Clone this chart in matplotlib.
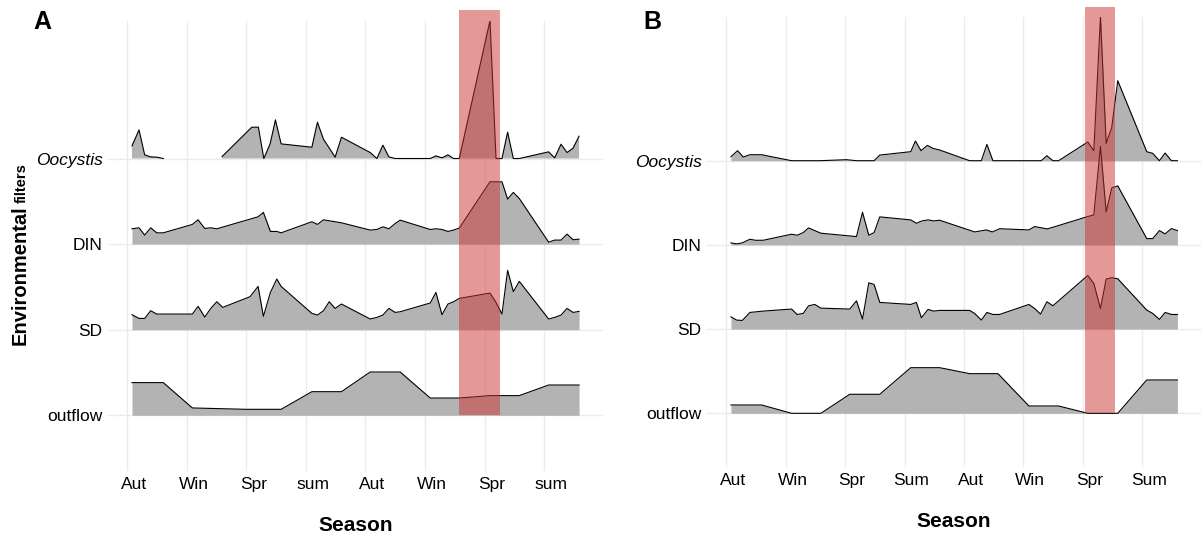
import numpy as np
import matplotlib
matplotlib.use("Agg")
import matplotlib.pyplot as plt
import matplotlib.transforms as mtransforms
from matplotlib.patches import Rectangle

plt.rcParams['font.family'] = ['Liberation Sans', 'DejaVu Sans']

# x positions are in "season" units: 0 = first Aut gridline, 1 = next season, ...
# heights are in units of the spacing between ridges
ridge_names = ['outflow', 'SD', 'DIN', 'Oocystis']

season_labels_a = ['Aut', 'Win', 'Spr', 'sum', 'Aut', 'Win', 'Spr', 'sum']
season_labels_b = ['Aut', 'Win', 'Spr', 'Sum', 'Aut', 'Win', 'Spr', 'Sum']

# ---- panel A ----
a_ooc_x = [0.079, 0.197, 0.292, 0.393, 0.494, 0.605, 1.0, 1.592, 2.091, 2.202, 2.293, 2.399,
           2.488, 2.584, 3.100, 3.194, 3.295, 3.491, 3.597, 4.080, 4.192, 4.293, 4.394, 4.500,
           5.088, 5.184, 5.285, 5.386, 5.480, 5.576, 6.092, 6.193, 6.293, 6.388, 6.484, 6.584,
           7.077, 7.178, 7.285, 7.386, 7.487, 7.588]
a_ooc = [0.148, 0.335, 0.043, 0.019, 0.016, 0.0, np.nan, 0.023, 0.366, 0.366, 0.0, 0.171,
         0.452, 0.171, 0.132, 0.424, 0.226, 0.016, 0.249, 0.070, 0.0, 0.156, 0.019, 0.0,
         0.0, 0.031, 0.008, 0.043, 0.0, 0.0, 1.612, 0.0, 0.0, 0.308, 0.0, 0.0,
         0.078, 0.008, 0.167, 0.070, 0.121, 0.261]

a_din_x = [0.079, 0.197, 0.292, 0.393, 0.494, 0.605, 1.093, 1.189, 1.301, 1.402, 1.503, 2.197,
           2.286, 2.404, 2.511, 2.584, 3.100, 3.194, 3.295, 3.597, 4.080, 4.192, 4.293, 4.394,
           4.500, 4.584, 5.088, 5.184, 5.285, 5.386, 5.480, 5.576, 6.092, 6.193, 6.293, 6.388,
           6.484, 6.584, 7.077, 7.178, 7.285, 7.386, 7.487, 7.588]
a_din = [0.179, 0.191, 0.105, 0.191, 0.132, 0.132, 0.230, 0.284, 0.183, 0.191, 0.179, 0.319,
         0.370, 0.148, 0.148, 0.132, 0.261, 0.230, 0.284, 0.249, 0.164, 0.171, 0.202, 0.179,
         0.241, 0.280, 0.171, 0.179, 0.171, 0.148, 0.164, 0.187, 0.728, 0.728, 0.728, 0.526,
         0.604, 0.533, 0.023, 0.047, 0.047, 0.117, 0.051, 0.058]

a_sd_x = [0.079, 0.197, 0.292, 0.393, 0.494, 0.605, 1.093, 1.189, 1.301, 1.402, 1.503, 1.603,
          2.062, 2.197, 2.286, 2.404, 2.511, 2.584, 3.100, 3.194, 3.295, 3.391, 3.491, 3.597,
          4.080, 4.192, 4.293, 4.394, 4.500, 4.584, 5.088, 5.184, 5.285, 5.386, 5.480, 5.576,
          6.092, 6.193, 6.293, 6.388, 6.484, 6.584, 7.077, 7.178, 7.285, 7.386, 7.487, 7.588]
a_sd = [0.175, 0.132, 0.132, 0.222, 0.183, 0.183, 0.183, 0.273, 0.148, 0.249, 0.327, 0.261,
        0.386, 0.506, 0.156, 0.436, 0.592, 0.506, 0.191, 0.171, 0.222, 0.327, 0.249, 0.300,
        0.125, 0.144, 0.171, 0.249, 0.202, 0.210, 0.312, 0.436, 0.175, 0.300, 0.327, 0.366,
        0.428, 0.319, 0.183, 0.693, 0.444, 0.565, 0.125, 0.144, 0.171, 0.249, 0.202, 0.214]

a_out_x = [0.079, 0.605, 1.093, 2.0, 2.584, 3.100, 3.597, 4.080, 4.584, 5.088, 5.576, 6.092,
           6.584, 7.077, 7.588]
a_out = [0.382, 0.382, 0.086, 0.070, 0.070, 0.276, 0.276, 0.506, 0.506, 0.202, 0.202, 0.230,
         0.230, 0.354, 0.354]

a_band = (5.576, 6.26)

# ---- panel B ----
b_ooc_x = [0.079, 0.191, 0.286, 0.398, 0.595, 1.099, 1.575, 2.024, 2.192, 2.488, 2.584, 3.105,
           3.184, 3.278, 3.385, 3.480, 3.592, 4.096, 4.293, 4.387, 4.488, 5.302, 5.396, 5.497,
           5.593, 6.085, 6.186, 6.298, 6.394, 6.488, 6.589, 7.077, 7.178, 7.290, 7.386, 7.492,
           7.593]
b_ooc = [0.048, 0.119, 0.044, 0.071, 0.071, 0.0, 0.0, 0.012, 0.0, 0.0, 0.067, 0.107,
         0.234, 0.119, 0.182, 0.146, 0.127, 0.0, 0.0, 0.194, 0.0, 0.0, 0.059, 0.0,
         0.0, 0.222, 0.119, 1.710, 0.206, 0.396, 0.950, 0.107, 0.087, 0.0, 0.091, 0.0,
         0.0]

b_din_x = [0.079, 0.174, 0.270, 0.398, 0.494, 0.622, 1.099, 1.194, 1.295, 1.385, 1.592, 2.192,
           2.293, 2.399, 2.488, 2.584, 3.105, 3.200, 3.295, 3.396, 3.491, 3.592, 4.181, 4.377,
           4.478, 4.601, 5.094, 5.189, 5.403, 5.593, 6.085, 6.186, 6.298, 6.394, 6.488, 6.589,
           7.077, 7.178, 7.290, 7.386, 7.492, 7.593]
b_din = [0.024, 0.012, 0.024, 0.067, 0.055, 0.055, 0.127, 0.115, 0.146, 0.202, 0.139, 0.099,
         0.388, 0.115, 0.146, 0.333, 0.297, 0.257, 0.285, 0.297, 0.285, 0.293, 0.154, 0.178,
         0.154, 0.192, 0.178, 0.218, 0.190, 0.230, 0.337, 0.356, 1.168, 0.392, 0.677, 0.701,
         0.075, 0.075, 0.170, 0.131, 0.194, 0.170]

b_sd_x = [0.079, 0.174, 0.270, 0.398, 0.622, 1.099, 1.194, 1.295, 1.385, 1.491, 1.592, 2.079,
          2.192, 2.293, 2.399, 2.488, 2.584, 3.105, 3.200, 3.284, 3.396, 3.491, 3.592, 4.096,
          4.181, 4.293, 4.387, 4.488, 4.601, 5.094, 5.189, 5.290, 5.396, 5.497, 6.085, 6.186,
          6.298, 6.394, 6.488, 6.589, 7.077, 7.178, 7.290, 7.386, 7.492, 7.593]
b_sd = [0.146, 0.107, 0.103, 0.198, 0.214, 0.238, 0.174, 0.186, 0.277, 0.293, 0.249, 0.238,
        0.336, 0.119, 0.550, 0.530, 0.317, 0.293, 0.317, 0.135, 0.234, 0.214, 0.222, 0.222,
        0.186, 0.107, 0.198, 0.174, 0.174, 0.293, 0.245, 0.178, 0.325, 0.277, 0.637, 0.542,
        0.245, 0.594, 0.610, 0.598, 0.226, 0.186, 0.115, 0.198, 0.174, 0.174]

b_out_x = [0.079, 0.595, 1.099, 1.592, 2.079, 2.584, 3.105, 3.592, 4.096, 4.573, 5.094, 5.593,
           6.085, 6.589, 7.077, 7.593]
b_out = [0.099, 0.099, 0.0, 0.0, 0.226, 0.226, 0.542, 0.542, 0.471, 0.471, 0.087, 0.087,
         0.0, 0.0, 0.396, 0.396]

b_band = (6.035, 6.54)

FILL = '#B3B3B3'
GRID = '#EBEBEB'
BAND = '#CD3333'


def draw_panel(ax, series, band, band_top, ylim, labels):
    ax.set_xlim(-0.324, 7.99)
    ax.set_ylim(*ylim)
    for lvl, (xs, ys) in enumerate(series):
        xs = np.asarray(xs, dtype=float)
        ys = np.asarray(ys, dtype=float) + lvl
        ax.fill_between(xs, lvl, ys, color=FILL, lw=0, zorder=2 + (3 - lvl))
        ax.plot(xs, ys, color='black', lw=0.8, zorder=2.5 + (3 - lvl))
    ax.add_patch(Rectangle((band[0], 0), band[1] - band[0], band_top, facecolor=BAND,
                           alpha=0.5, lw=0, zorder=10, clip_on=False))
    ax.set_xticks(range(8))
    ax.set_xticklabels(labels, fontsize=12.5)
    ax.set_yticks(range(4))
    ax.set_yticklabels(ridge_names, fontsize=12.5)
    ax.get_yticklabels()[3].set_style('italic')
    ax.tick_params(length=0, pad=4)
    ax.tick_params(axis='x', pad=4.5)
    ax.grid(True, color=GRID, lw=1.0, zorder=0)
    ax.set_axisbelow(True)
    for sp in ax.spines.values():
        sp.set_visible(False)
    off = mtransforms.ScaledTranslation(0.07, 0, ax.figure.dpi_scale_trans)
    for lab in ax.get_xticklabels():
        lab.set_transform(lab.get_transform() + off)
    ax.set_xlabel('Season', fontsize=15, fontweight='bold', labelpad=17)


W, H = 1203, 534
fig = plt.figure(figsize=(W / 100, H / 100), dpi=100)

ax_a = fig.add_axes([108 / W, (H - 470.7) / H, (603 - 108) / W, 450 / H])
ax_b = fig.add_axes([707 / W, (H - 466.7) / H, (1201 - 707) / W, 449.4 / H])

draw_panel(ax_a, [(a_out_x, a_out), (a_sd_x, a_sd), (a_din_x, a_din), (a_ooc_x, a_ooc)],
           a_band, 4.73, (-0.647, 4.61), season_labels_a)
draw_panel(ax_b, [(b_out_x, b_out), (b_sd_x, b_sd), (b_din_x, b_din), (b_ooc_x, b_ooc)],
           b_band, 4.83, (-0.634, 4.703), season_labels_b)

# y axis title, "filters" set smaller like the original
fig.text(26 / W, (H - 345) / H, 'Environmental', rotation=90, rotation_mode='anchor',
         ha='left', va='baseline', fontsize=14.5, fontweight='bold')
fig.text(26 / W, (H - 203) / H, 'filters', rotation=90, rotation_mode='anchor',
         ha='left', va='baseline', fontsize=10.5, fontweight='bold')

fig.text(33 / W, (H - 10) / H, 'A', ha='left', va='top', fontsize=18, fontweight='bold')
fig.text(643 / W, (H - 10) / H, 'B', ha='left', va='top', fontsize=18, fontweight='bold')

fig.savefig('out.png', dpi=100)
